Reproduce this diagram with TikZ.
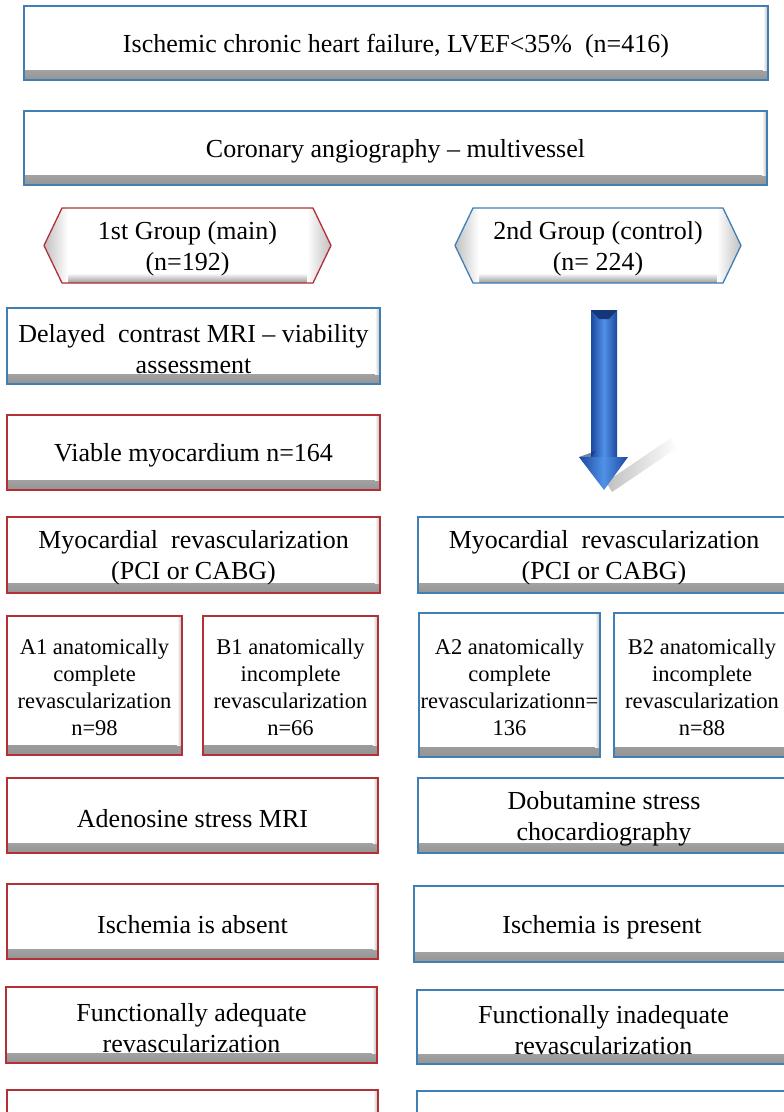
\documentclass[tikz,border=0pt]{standalone}
\usepackage{fontspec}
\setmainfont{Liberation Serif}
\definecolor{boxred}{RGB}{178,48,54}
\definecolor{boxblue}{RGB}{66,126,182}
\definecolor{arrdark}{RGB}{28,72,160}
\definecolor{arrmid}{RGB}{80,145,230}
\newcommand\bigtext{\fontsize{26}{31}\selectfont}
\newcommand\smalltext{\fontsize{22.5}{27}\selectfont}
% hexagon: name, left x, right x, top y, bottom y, colour, text
\newcommand\hexbox[7]{%
  \begin{scope}
    \clip (#2,{(#4+#5)/2}) -- (#2+18,#4) -- (#3-18,#4) -- (#3,{(#4+#5)/2}) -- (#3-18,#5) -- (#2+18,#5) -- cycle;
    \fill[white] (#2,#4) rectangle (#3,#5);
    \shade[top color=white, bottom color=black!40] (#2,#5-10) rectangle (#3,#5);
    \shade[left color=black!25, right color=white] (#2,#4) rectangle (#2+24,#5);
    \shade[left color=white, right color=black!25] (#3-24,#4) rectangle (#3,#5);
  \end{scope}
  \draw[line width=1.3pt, draw=#6] (#2,{(#4+#5)/2}) -- (#2+18,#4) -- (#3-18,#4) -- (#3,{(#4+#5)/2}) -- (#3-18,#5) -- (#2+18,#5) -- cycle;
  \node[txtlab] (#1) at ({(#2+#3)/2},{(#4+#5)/2}) {#7};%
}
\tikzset{
  sz/.style 2 args={minimum width=#1pt, minimum height=#2pt},
  base/.style={rectangle, fill=white, line width=1.3pt, inner sep=0pt,
    path picture={
      \shade[top color=white, bottom color=black!42]
        ([yshift=10pt]path picture bounding box.south west) rectangle (path picture bounding box.south east);
      \shade[left color=white, right color=black!28]
        ([xshift=-5pt]path picture bounding box.north east) rectangle ([yshift=10pt]path picture bounding box.south east);
    }},
  redbox/.style={base, draw=boxred},
  bluebox/.style={base, draw=boxblue},
  txtlab/.style={align=center, font=\bigtext, inner sep=0pt, yshift=-3pt},
  smalllab/.style={align=center, font=\smalltext, inner sep=0pt, yshift=-2pt},
  txt/.style={label={[txtlab]center:{#1}}},
  stxt/.style={label={[smalllab]center:{#1}}},
}
\begin{document}
\begin{tikzpicture}[x=1pt, y=-1pt]
\useasboundingbox (0,0) rectangle (784,1112);
\clip (0,0) rectangle (784,1112);
\fill[white] (0,0) rectangle (784,1112);

\node[bluebox, sz={744}{74}, txt={Ischemic chronic heart failure, LVEF<35\%~~(n=416)}] (top) at (396,43) {};
\node[bluebox, sz={743}{74}, txt={Coronary angiography -- multivessel}] (coro) at (395.5,148) {};

\hexbox{g1}{44}{331}{208}{283}{boxred}{1st Group (main)\\(n=192)}
\hexbox{g2}{455}{741}{208}{283}{boxblue}{2nd Group (control)\\(n= 224)}

\node[bluebox, sz={373}{76}, txt={Delayed~~contrast MRI -- viability\\assessment}] (delayed) at (193.5,346) {};
\node[redbox, sz={373}{75}, txt={Viable myocardium n=164}] (viable) at (193.5,452.5) {};
\node[redbox, sz={373}{76}, txt={Myocardial~~revascularization\\(PCI or CABG)}] (myoL) at (193.5,555) {};
\node[bluebox, sz={372}{76}, txt={Myocardial~~revascularization\\(PCI or CABG)}] (myoR) at (604,555) {};

\node[redbox, sz={175}{139}, stxt={A1 anatomically\\complete\\revascularization\\n=98}] (a1) at (94.5,685.5) {};
\node[redbox, sz={175}{139}, stxt={B1 anatomically\\incomplete\\revascularization\\n=66}] (b1) at (290.5,685.5) {};
\node[bluebox, sz={181}{144}, stxt={A2 anatomically\\complete\\revascularizationn=\\136}] (a2) at (509.5,685) {};
\node[bluebox, sz={176}{144}, stxt={B2 anatomically\\incomplete\\revascularization\\n=88}] (b2) at (702,685) {};

\node[redbox, sz={371}{75}, txt={Adenosine stress MRI}] (aden) at (192.5,815.5) {};
\node[bluebox, sz={372}{75}, txt={Dobutamine stress\\chocardiography}] (dobu) at (604,815.5) {};
\node[redbox, sz={371}{75}, txt={Ischemia is absent}] (isabs) at (192.5,921.5) {};
\node[bluebox, sz={376}{76}, txt={Ischemia is present}] (ispres) at (602,924) {};
\node[redbox, sz={371}{76}, txt={Functionally adequate\\revascularization}] (funca) at (191.5,1025) {};
\node[bluebox, sz={373}{74}, txt={Functionally inadequate\\revascularization}] (funci) at (603.5,1027) {};
\node[redbox, sz={371}{76}] (botl) at (192.5,1128) {};
\node[bluebox, sz={373}{75}] (botr) at (603.5,1128.5) {};

% decorative block arrow of the control group
\coordinate (arrtop) at (604,310);
\coordinate (arrneck) at (604,457);
\coordinate (arrtip) at (604,490);
\shade[left color=black!35, right color=white, opacity=0.7]
  (606,482) -- (612,492) -- (677,448) -- (671,438) -- cycle;
\shade[left color=arrdark, right color=arrdark, middle color=arrmid]
  ([xshift=-13pt]arrtop) rectangle ([xshift=13pt]arrneck);
\fill[arrdark!75!black] ([xshift=-13pt]arrtop) -- ([xshift=13pt]arrtop) -- ([xshift=5pt,yshift=-9pt]arrtop) -- ([xshift=-5pt,yshift=-9pt]arrtop) -- cycle;
\shade[left color=arrdark, right color=arrdark, middle color=arrmid]
  ([xshift=-25pt]arrneck) -- ([xshift=24pt]arrneck) -- (arrtip) -- cycle;
\fill[arrdark!70!black, opacity=0.6] ([xshift=-25pt]arrneck) -- ([xshift=-13pt]arrneck) -- ([xshift=-8pt,yshift=6pt]arrneck) -- cycle;
\end{tikzpicture}
\end{document}
